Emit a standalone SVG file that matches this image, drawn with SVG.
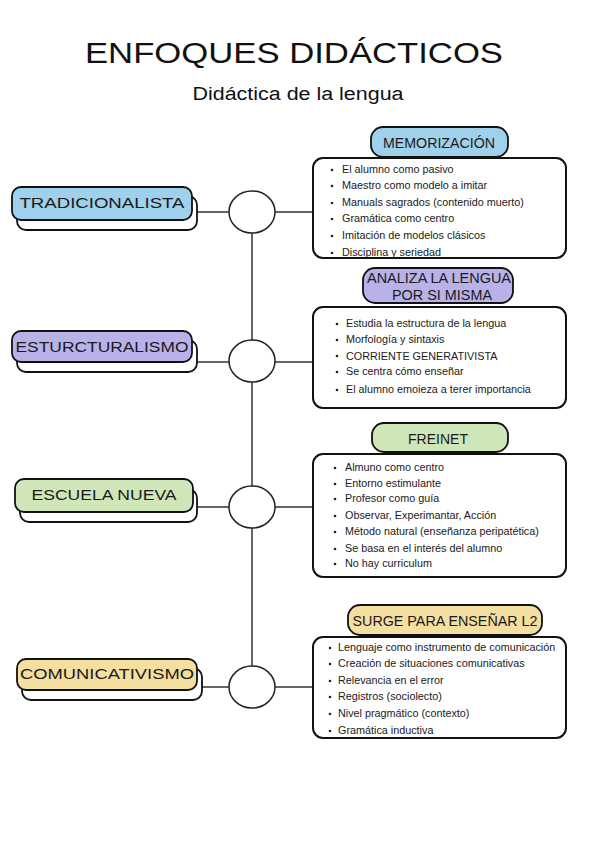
<svg xmlns="http://www.w3.org/2000/svg" width="600" height="848" viewBox="0 0 600 848">
<style>
  .title{font-family:"Liberation Sans","DejaVu Sans",sans-serif;fill:#111;}
  .lbl{font-family:"Liberation Sans","DejaVu Sans",sans-serif;font-size:15px;fill:#1a1a1a;text-anchor:middle;}
  .pill{font-family:"Liberation Sans","DejaVu Sans",sans-serif;font-size:15px;fill:#1a1a1a;text-anchor:middle;}
  .body{font-family:"Liberation Sans","DejaVu Sans",sans-serif;font-size:10.8px;fill:#1a1a1a;}
  .box{stroke:#111;stroke-width:1.8;}
  .shadow{fill:#fff;stroke:#111;stroke-width:1.8;}
  .card{fill:#fff;stroke:#111;stroke-width:2;}
  .ln{stroke:#333;stroke-width:1.5;fill:none;}
  .hub{fill:#fff;stroke:#222;stroke-width:1.5;}
  .dot{fill:#222;}
</style>
<rect width="600" height="848" fill="#fff"/>
<text class="title" x="294" y="63" font-size="29" text-anchor="middle" textLength="418" lengthAdjust="spacingAndGlyphs">ENFOQUES DIDÁCTICOS</text>
<text class="title" x="298" y="100" font-size="18" text-anchor="middle" textLength="211" lengthAdjust="spacingAndGlyphs">Didáctica de la lengua</text>

<g id="connectors">
  <line class="ln" x1="252" y1="233" x2="252" y2="666"/>
  <line class="ln" x1="197" y1="212" x2="229" y2="212"/>
  <line class="ln" x1="275" y1="212" x2="313" y2="212"/>
  <line class="ln" x1="197" y1="362" x2="229" y2="362"/>
  <line class="ln" x1="275" y1="362" x2="313" y2="362"/>
  <line class="ln" x1="197" y1="507" x2="229" y2="507"/>
  <line class="ln" x1="275" y1="507" x2="313" y2="507"/>
  <line class="ln" x1="202" y1="687" x2="229" y2="687"/>
  <line class="ln" x1="275" y1="687" x2="313" y2="687"/>
  <ellipse class="hub" cx="252" cy="212" rx="23" ry="21"/>
  <ellipse class="hub" cx="252" cy="361" rx="23" ry="21"/>
  <ellipse class="hub" cx="252" cy="507" rx="23" ry="21"/>
  <ellipse class="hub" cx="252" cy="687" rx="23" ry="21"/>
</g>

<g id="tradicionalista">
  <rect class="shadow" x="17" y="196" width="180" height="34" rx="9"/>
  <rect class="box" x="12" y="187" width="180" height="33" rx="9" fill="#9fd0ec"/>
  <text class="lbl" x="102" y="208" textLength="165" lengthAdjust="spacingAndGlyphs">TRADICIONALISTA</text>
</g>
<g id="memorizacion">
  <rect class="box" x="371" y="127" width="137" height="30" rx="12" fill="#9fd0ec" stroke-width="2"/>
  <text class="pill" x="439" y="148" textLength="112" lengthAdjust="spacingAndGlyphs">MEMORIZACIÓN</text>
  <rect class="card" x="313" y="158" width="253" height="100" rx="10"/>
  <g class="dot"><circle cx="332" cy="170" r="1.3"/><circle cx="332" cy="186" r="1.3"/><circle cx="332" cy="203" r="1.3"/><circle cx="332" cy="219" r="1.3"/><circle cx="332" cy="236" r="1.3"/><circle cx="332" cy="253" r="1.3"/></g>
  <text class="body" x="342" y="173">El alumno como pasivo</text>
  <text class="body" x="342" y="189">Maestro como modelo a imitar</text>
  <text class="body" x="342" y="206">Manuals sagrados (contenido muerto)</text>
  <text class="body" x="342" y="222">Gramática como centro</text>
  <text class="body" x="342" y="239">Imitación de modelos clásicos</text>
  <text class="body" x="342" y="256">Disciplina y seriedad</text>
</g>

<g id="estructuralismo">
  <rect class="shadow" x="17" y="340" width="180" height="32" rx="9"/>
  <rect class="box" x="12" y="331" width="180" height="31" rx="9" fill="#b8b2e9"/>
  <text class="lbl" x="102" y="352" textLength="173" lengthAdjust="spacingAndGlyphs">ESTURCTURALISMO</text>
</g>
<g id="analiza">
  <rect class="box" x="363" y="268" width="150" height="35" rx="12" fill="#b8b2e9" stroke-width="2"/>
  <text class="pill" font-size="11"><tspan x="439" y="283" textLength="144" lengthAdjust="spacingAndGlyphs">ANALIZA LA LENGUA</tspan><tspan x="442" y="300" textLength="100" lengthAdjust="spacingAndGlyphs">POR SI MISMA</tspan></text>
  <rect class="card" x="313" y="307" width="253" height="101" rx="10"/>
  <g class="dot"><circle cx="337" cy="324" r="1.3"/><circle cx="337" cy="340" r="1.3"/><circle cx="337" cy="356" r="1.3"/><circle cx="337" cy="372" r="1.3"/><circle cx="337" cy="390" r="1.3"/></g>
  <text class="body" x="346" y="327">Estudia la estructura de la lengua</text>
  <text class="body" x="346" y="343">Morfología y sintaxis</text>
  <text class="body" x="346" y="360" font-size="12.5">CORRIENTE GENERATIVISTA</text>
  <text class="body" x="346" y="375">Se centra cómo enseñar</text>
  <text class="body" x="346" y="393">El alumno emoieza a terer importancia</text>
</g>

<g id="escuela-nueva">
  <rect class="shadow" x="20" y="489" width="177" height="33" rx="9"/>
  <rect class="box" x="15" y="479" width="178" height="33" rx="9" fill="#cfe6b8"/>
  <text class="lbl" x="104" y="500" textLength="145" lengthAdjust="spacingAndGlyphs">ESCUELA NUEVA</text>
</g>
<g id="freinet">
  <rect class="box" x="372" y="423" width="136" height="29" rx="12" fill="#cfe6b8" stroke-width="2"/>
  <text class="pill" x="438" y="444" textLength="60" lengthAdjust="spacingAndGlyphs">FREINET</text>
  <rect class="card" x="313" y="454" width="253" height="123" rx="10"/>
  <g class="dot"><circle cx="335" cy="468" r="1.3"/><circle cx="335" cy="484" r="1.3"/><circle cx="335" cy="499" r="1.3"/><circle cx="335" cy="516" r="1.3"/><circle cx="335" cy="532" r="1.3"/><circle cx="335" cy="549" r="1.3"/><circle cx="335" cy="564" r="1.3"/></g>
  <text class="body" x="345" y="471">Almuno como centro</text>
  <text class="body" x="345" y="487">Entorno estimulante</text>
  <text class="body" x="345" y="502">Profesor como guía</text>
  <text class="body" x="345" y="519">Observar, Experimantar, Acción</text>
  <text class="body" x="345" y="535">Método natural (enseñanza peripatética)</text>
  <text class="body" x="345" y="552">Se basa en el interés del alumno</text>
  <text class="body" x="345" y="567">No hay curriculum</text>
</g>

<g id="comunicativismo">
  <rect class="shadow" x="22" y="668" width="180" height="32" rx="9"/>
  <rect class="box" x="17" y="659" width="180" height="31" rx="9" fill="#f4dea0"/>
  <text class="lbl" x="107" y="679" textLength="174" lengthAdjust="spacingAndGlyphs">COMUNICATIVISMO</text>
</g>
<g id="surge">
  <rect class="box" x="348" y="605" width="194" height="30" rx="12" fill="#f4dea0" stroke-width="2"/>
  <text class="pill" x="445" y="626" textLength="185" lengthAdjust="spacingAndGlyphs">SURGE PARA ENSEÑAR L2</text>
  <rect class="card" x="313" y="637" width="253" height="101" rx="10"/>
  <g class="dot"><circle cx="330" cy="648" r="1.3"/><circle cx="330" cy="664" r="1.3"/><circle cx="330" cy="681" r="1.3"/><circle cx="330" cy="697" r="1.3"/><circle cx="330" cy="714" r="1.3"/><circle cx="330" cy="731" r="1.3"/></g>
  <text class="body" x="338" y="651">Lenguaje como instrumento de comunicación</text>
  <text class="body" x="338" y="667">Creación de situaciones comunicativas</text>
  <text class="body" x="338" y="684">Relevancia en el error</text>
  <text class="body" x="338" y="700">Registros (sociolecto)</text>
  <text class="body" x="338" y="717">Nivel pragmático (contexto)</text>
  <text class="body" x="338" y="734">Gramática inductiva</text>
</g>
</svg>
